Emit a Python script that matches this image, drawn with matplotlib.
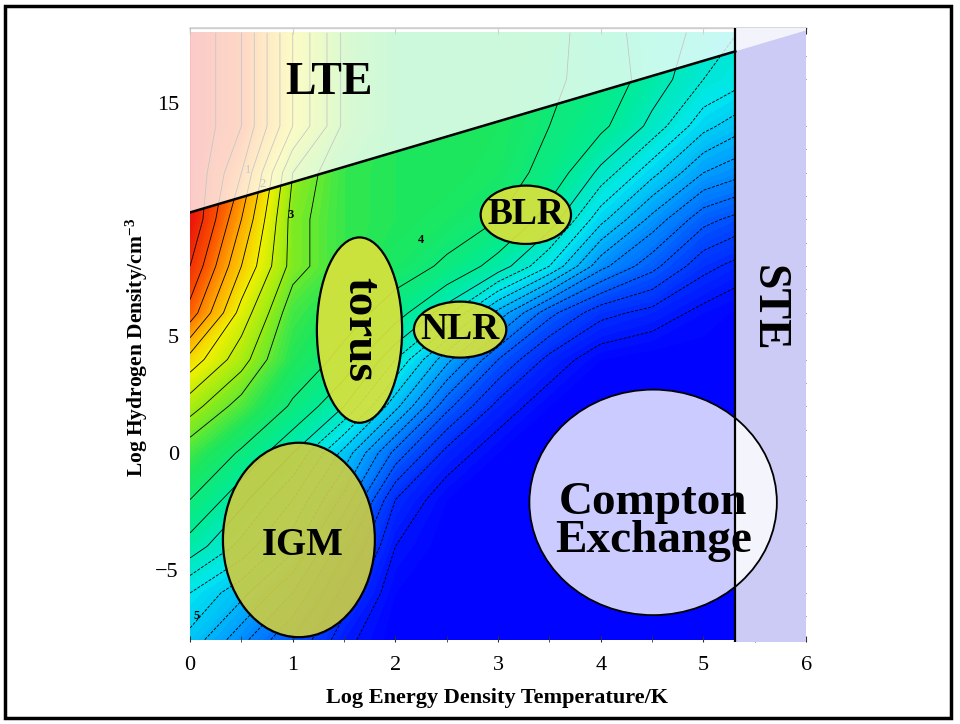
import numpy as np
import matplotlib
matplotlib.use("Agg")
import matplotlib.pyplot as plt
from matplotlib.colors import LinearSegmentedColormap
from matplotlib.patches import Ellipse, Polygon, Rectangle

plt.rcParams['font.family'] = ['Liberation Serif', 'DejaVu Serif']
plt.rcParams['mathtext.fontset'] = 'custom'
plt.rcParams['mathtext.rm'] = 'Liberation Serif'
plt.rcParams['mathtext.bf'] = 'Liberation Serif:bold'
plt.rcParams['mathtext.default'] = 'bf'

# grid nodes of the background field
grid_x = [0, 0.5, 1, 1.5, 2, 2.5, 3, 3.5, 4, 4.5, 5, 5.5, 6]
grid_y = [-8, -6, -4, -2, 0, 2, 4, 6, 8, 10, 12, 14, 16, 18]

# colour level at each node, 0 = deep blue ... 10 = red, one row per grid_y
field = [
    [2.6, 1.9, 1.2, 0.4, 0.0, 0.0, 0.0, 0.0, 0.0, 0.0, 0.0, 0.0, 0.0],
    [3.0, 2.5, 1.8, 0.8, 0.1, 0.0, 0.0, 0.0, 0.0, 0.0, 0.0, 0.0, 0.0],
    [3.8, 3.2, 2.5, 1.3, 0.3, 0.0, 0.0, 0.0, 0.0, 0.0, 0.0, 0.0, 0.0],
    [4.5, 3.7, 3.0, 2.0, 0.6, 0.1, 0.0, 0.0, 0.0, 0.0, 0.0, 0.0, 0.0],
    [5.3, 4.4, 3.6, 2.6, 1.4, 0.5, 0.1, 0.0, 0.0, 0.0, 0.0, 0.0, 0.0],
    [6.2, 5.4, 4.4, 3.6, 2.5, 1.3, 0.5, 0.1, 0.0, 0.0, 0.0, 0.0, 0.0],
    [7.3, 6.2, 5.0, 4.3, 3.3, 2.2, 1.2, 0.5, 0.1, 0.0, 0.0, 0.0, 0.0],
    [8.8, 6.8, 5.3, 4.8, 4.2, 3.4, 2.3, 1.3, 0.7, 0.5, 0.2, 0.0, 0.0],
    [9.5, 7.5, 5.8, 5.2, 4.8, 4.4, 3.8, 3.0, 1.9, 1.3, 0.7, 0.4, 0.2],
    [10.0, 8.0, 5.8, 5.2, 5.0, 4.8, 4.5, 3.8, 2.8, 2.0, 1.3, 1.0, 0.8],
    [10.0, 8.5, 6.0, 5.2, 5.0, 5.0, 4.8, 4.3, 3.5, 2.8, 2.1, 1.8, 1.5],
    [10.0, 9.0, 7.0, 5.5, 5.0, 5.0, 4.9, 4.5, 4.1, 3.5, 2.8, 2.4, 2.0],
    [10.0, 9.0, 7.0, 5.5, 5.0, 5.0, 4.9, 4.6, 4.3, 3.8, 3.3, 3.0, 2.5],
    [10.0, 9.0, 7.0, 5.5, 5.0, 5.0, 5.0, 4.7, 4.2, 3.8, 3.5, 3.2, 3.0],
]

contour_levels = [0.3, 0.6, 0.9, 1.2, 1.5, 1.8, 2.1, 2.4, 2.7, 3.0, 3.3,
                  3.6, 4.0, 4.5, 5.6, 6.0, 6.5, 7.0, 7.5, 8.0, 8.5, 9.0, 9.5]

# regions
lte_x = [0, 5.31, 6]
lte_y = [10.3, 17.2, 18.1]
ste_x = 5.31

names = ['BLR', 'NLR', 'torus', 'IGM']
ell_x = [3.27, 2.63, 1.65, 1.06]
ell_y = [10.2, 5.28, 5.26, -3.73]
ell_w = [0.88, 0.90, 0.83, 1.48]
ell_h = [2.5, 2.4, 7.94, 8.33]

compton_xy = (4.51, -2.12)
compton_wh = (2.41, 9.66)

x_ticks = [0, 1, 2, 3, 4, 5, 6]
y_ticks = [-5, 0, 5, 15]

cmap = LinearSegmentedColormap.from_list('field', [
    (0.0, (0 / 255, 0 / 255, 255 / 255)),
    (0.1, (0 / 255, 70 / 255, 255 / 255)),
    (0.2, (0 / 255, 150 / 255, 255 / 255)),
    (0.3, (0 / 255, 230 / 255, 240 / 255)),
    (0.4, (0 / 255, 235 / 255, 150 / 255)),
    (0.5, (30 / 255, 230 / 255, 90 / 255)),
    (0.6, (150 / 255, 235 / 255, 20 / 255)),
    (0.7, (240 / 255, 240 / 255, 0 / 255)),
    (0.8, (255 / 255, 170 / 255, 0 / 255)),
    (0.9, (250 / 255, 80 / 255, 0 / 255)),
    (1.0, (235 / 255, 20 / 255, 10 / 255)),
])

fig = plt.figure(figsize=(9.6, 7.24), dpi=100)
ax = fig.add_axes([0.198, 0.1133, 0.6417, 0.848])

X, Y = np.meshgrid(grid_x, grid_y)
Z = np.array(field)
ax.contourf(X, Y, Z, levels=np.linspace(0, 10, 101), cmap=cmap, zorder=0)
styles = ['dashed' if lv < 3.5 else 'solid' for lv in contour_levels]
ax.contour(X, Y, Z, levels=contour_levels, colors='black',
           linewidths=0.6, linestyles=styles, zorder=1)

# contour labels
ax.text(0.98, 10.2, '3', fontsize=9, fontweight='bold', ha='center', va='center', zorder=2)
ax.text(2.25, 9.14, '4', fontsize=9, fontweight='bold', ha='center', va='center', zorder=2)
ax.text(0.03, -7.0, '5', fontsize=9, fontweight='bold', ha='left', va='center', zorder=2)
ax.text(0.56, 12.1, '1', fontsize=9, ha='center', va='center', zorder=2)
ax.text(0.71, 11.5, '2', fontsize=9, ha='center', va='center', zorder=2)

# STE band on the right
ax.add_patch(Rectangle((ste_x, -8.1), 6 - ste_x, 26.3, facecolor='#cbcbf5',
                       edgecolor='none', zorder=3))

# LTE wash above the line
lte_poly = Polygon([(lte_x[0], lte_y[0]), (lte_x[1], lte_y[1]), (lte_x[2], lte_y[2]),
                    (6, 18.2), (0, 18.2)], closed=True,
                   facecolor='white', edgecolor='none', alpha=0.78, zorder=3.2)
ax.add_patch(lte_poly)

for name, cx, cy, w, h in zip(names, ell_x, ell_y, ell_w, ell_h):
    fc = '#c9cc45' if name == 'IGM' else '#d8e23c'
    ax.add_patch(Ellipse((cx, cy), w, h, facecolor=fc, edgecolor='none',
                         alpha=0.93, zorder=4))
    ax.add_patch(Ellipse((cx, cy), w, h, facecolor='none', edgecolor='black',
                         linewidth=1.6, zorder=4))

ax.add_patch(Ellipse(compton_xy, compton_wh[0], compton_wh[1], facecolor='white',
                     edgecolor='none', alpha=0.8, zorder=4))
ax.add_patch(Ellipse(compton_xy, compton_wh[0], compton_wh[1], facecolor='none',
                     edgecolor='black', linewidth=1.3, zorder=4))

ax.plot(lte_x[:2], lte_y[:2], color='black', linewidth=1.8, zorder=5)
ax.plot([ste_x, ste_x], [-8.1, 18.2], color='black', linewidth=1.6, zorder=5)

bold = dict(fontweight='bold', ha='center', va='center', zorder=6)
ax.text(1.35, 15.84, 'LTE', fontsize=33, **bold)
ax.text(5.62, 6.2, 'STE', fontsize=33, rotation=-90, **bold)
ax.text(ell_x[0], ell_y[0], 'BLR', fontsize=27, **bold)
ax.text(ell_x[1], ell_y[1], 'NLR', fontsize=27, **bold)
ax.text(1.65, 5.3, 'torus', fontsize=34, rotation=-90, **bold)
ax.text(1.10, -3.95, 'IGM', fontsize=28, **bold)
ax.text(4.51, -2.95, 'Compton\nExchange', fontsize=34, linespacing=0.88, **bold)

ax.set_xlim(0, 6)
ax.set_ylim(-8.1, 18.2)
ax.set_xticks(x_ticks)
ax.set_yticks(y_ticks)
ax.set_xticks(np.arange(0, 6.01, 0.5), minor=True)
ax.set_yticks(np.arange(-8, 18.1, 1), minor=True)
ax.tick_params(axis='both', which='both', direction='in', labelsize=16,
               colors='#333333', labelcolor='black')
ax.tick_params(axis='x', which='both', top=True, pad=10, length=4)
ax.tick_params(axis='y', which='both', right=True, left=False, pad=8, length=4)
ax.tick_params(axis='y', which='major', right=False)
ax.tick_params(axis='x', which='minor', top=False)

for side in ['left', 'right', 'bottom']:
    ax.spines[side].set_visible(False)
ax.spines['top'].set_linewidth(1.0)
ax.spines['top'].set_color('#333333')

ax.set_xlabel('Log Energy Density Temperature/K', fontsize=16, fontweight='bold')
ax.xaxis.set_label_coords(0.4976, -0.075)
ax.set_ylabel('Log Hydrogen Density/cm$^{-3}$', fontsize=15.5, fontweight='bold')
ax.yaxis.set_label_coords(-0.065, 0.48)

# outer frame of the picture
fig.patches.append(Rectangle((5 / 960, 1 - 718 / 724), 946 / 960, 712 / 724,
                             transform=fig.transFigure, facecolor='none',
                             edgecolor='black', linewidth=2.5))

fig.savefig('out.png', dpi=100)
